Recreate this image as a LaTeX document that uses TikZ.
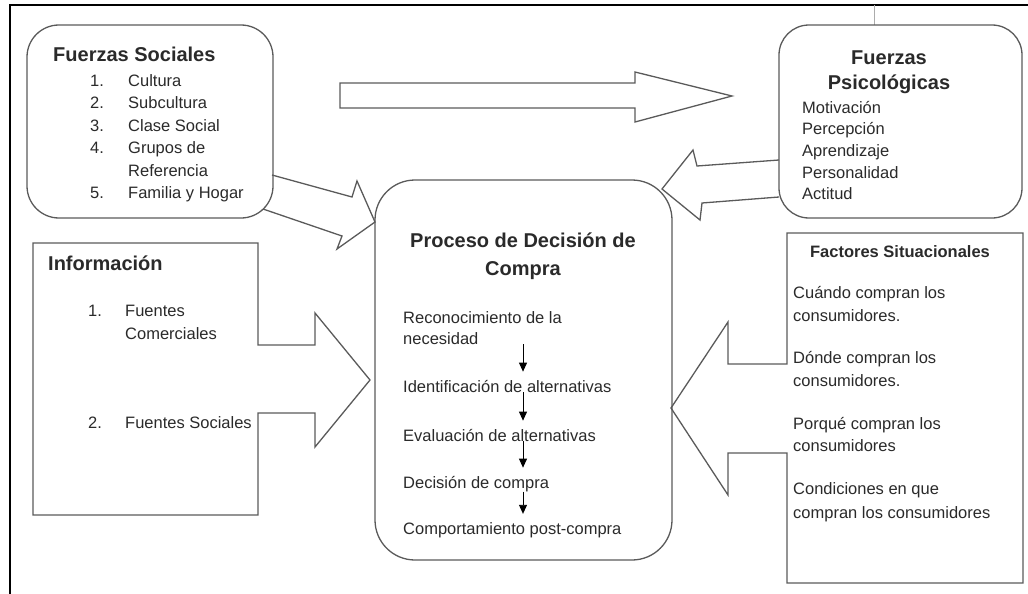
\documentclass[tikz,border=0pt]{standalone}
\usepackage{fontspec}
\setmainfont{Liberation Sans}
\usetikzlibrary{arrows.meta}
\definecolor{edge}{HTML}{5A5A5A}
\definecolor{ink}{HTML}{2A2A2A}
\tikzset{
  frame/.style={line width=2.4pt, black},
  boxline/.style={draw=edge, line width=1.3pt},
  blockarrow/.style={draw=edge, line width=1.3pt, line join=miter},
  ttl/.style={inner sep=0pt, text=ink, font=\fontsize{20}{24}\selectfont\bfseries},
  subttl/.style={inner sep=0pt, text=ink, font=\fontsize{16.5}{19}\selectfont\bfseries},
  txt/.style={inner sep=0pt, text=ink, font=\fontsize{16.5}{20}\selectfont},
  flowarrow/.style={draw=black, line width=0.9pt, shorten >=8pt,
    -{Triangle[length=9pt,width=8pt]}}
}
\begin{document}
\begin{tikzpicture}[x=1pt, y=-1pt]
\useasboundingbox (0,0) rectangle (1028,594);

% outer frame (left and top edges)
\draw[frame] (10,594) -- (10,5) -- (1028,5);
\draw[edge!50, line width=1pt] (874,5) -- (874,25);

% ---------- Fuerzas Sociales ----------
\draw[boxline, rounded corners=32pt] (27,25) rectangle (273,218);
\node[ttl, anchor=base west] (fsT) at (53,62) {Fuerzas Sociales};
\foreach \n/\t/\y [count=\i] in {1./Cultura/86, 2./Subcultura/108, 3./Clase Social/131,
    4./Grupos de/153, /Referencia/176, 5./Familia y Hogar/198} {
  \node[txt, anchor=base west] (fsN\i) at (90,\y) {\n};
  \node[txt, anchor=base west] (fsI\i) at (128,\y) {\t};
}

% ---------- Fuerzas Psicologicas ----------
\draw[boxline, rounded corners=30pt] (779,25) rectangle (1022,218);
\node[ttl, anchor=base] (fpT1) at (889,65) {Fuerzas};
\node[ttl, anchor=base] (fpT2) at (889,89) {Psicológicas};
\foreach \t/\y [count=\i] in {Motivación/113, Percepción/134, Aprendizaje/156,
    Personalidad/178, Actitud/199} {
  \node[txt, anchor=base west] (fpI\i) at (802,\y) {\t};
}

% ---------- Proceso de Decision de Compra ----------
\draw[boxline, rounded corners=40pt] (375,180) rectangle (672,560);
\node[ttl, anchor=base] (pdT1) at (523,247) {Proceso de Decisión de};
\node[ttl, anchor=base] (pdT2) at (523,275) {Compra};
\node[txt, anchor=base west] (s1a) at (403,323) {Reconocimiento de la};
\node[txt, anchor=base west] (s1)  at (403,344) {necesidad};
\node[txt, anchor=base west] (s2)  at (403,392) {Identificación de alternativas};
\node[txt, anchor=base west] (s3)  at (403,441) {Evaluación de alternativas};
\node[txt, anchor=base west] (s4)  at (403,488) {Decisión de compra};
\node[txt, anchor=base west] (s5)  at (403,534) {Comportamiento post-compra};
\coordinate (ax) at (523,0);
\draw[flowarrow] (s1.south -| ax) -- (s2.north -| ax);
\draw[flowarrow] (s2.south -| ax) -- (s3.north -| ax);
\draw[flowarrow] (s3.south -| ax) -- (s4.north -| ax);
\draw[flowarrow] (s4.south -| ax) -- (s5.north -| ax);

% ---------- Informacion (box merged with its arrow) ----------
\draw[blockarrow] (33,243) -- (258,243) -- (258,345) -- (315,345) -- (315,313)
  -- (370,380) -- (315,447) -- (315,413) -- (258,413) -- (258,515) -- (33,515) -- cycle;
\node[ttl, anchor=base west] (inT) at (48,270) {Información};
\node[txt, anchor=base west] (inN1) at (88,316) {1.};
\node[txt, anchor=base west] (inI1) at (125,316) {Fuentes};
\node[txt, anchor=base west] (inI1b) at (125,339) {Comerciales};
\node[txt, anchor=base west] (inN2) at (88,428) {2.};
\node[txt, anchor=base west] (inI2) at (125,428) {Fuentes Sociales};

% ---------- Factores Situacionales (box merged with its arrow) ----------
\draw[blockarrow] (787,233) -- (1023,233) -- (1023,583) -- (787,583) -- (787,453)
  -- (728,453) -- (728,495) -- (671,408) -- (728,322) -- (728,364) -- (787,364) -- cycle;
\node[subttl, anchor=base] (fcT) at (900,257) {Factores Situacionales};
\foreach \t/\y [count=\i] in {Cuándo compran los/298, consumidores./321,
    Dónde compran los/363, consumidores./386, Porqué compran los/429,
    consumidores/451, Condiciones en que/494, compran los consumidores/518} {
  \node[txt, anchor=base west] (fcI\i) at (793,\y) {\t};
}

% ---------- block arrows between boxes ----------
% social forces to psychological forces
\draw[blockarrow] (340,83) -- (635,83) -- (635,72) -- (732,96) -- (635,122)
  -- (635,108) -- (340,108) -- cycle;
% social forces into the decision process
\draw[blockarrow] (272,175) -- (352,197) -- (357,181) -- (375,222) -- (337,249)
  -- (342,236) -- (263,209);
% psychological forces into the decision process
\draw[blockarrow] (779,160) -- (697,166) -- (693,150) -- (662,189) -- (700,220)
  -- (702,203) -- (779,197);
\end{tikzpicture}
\end{document}
